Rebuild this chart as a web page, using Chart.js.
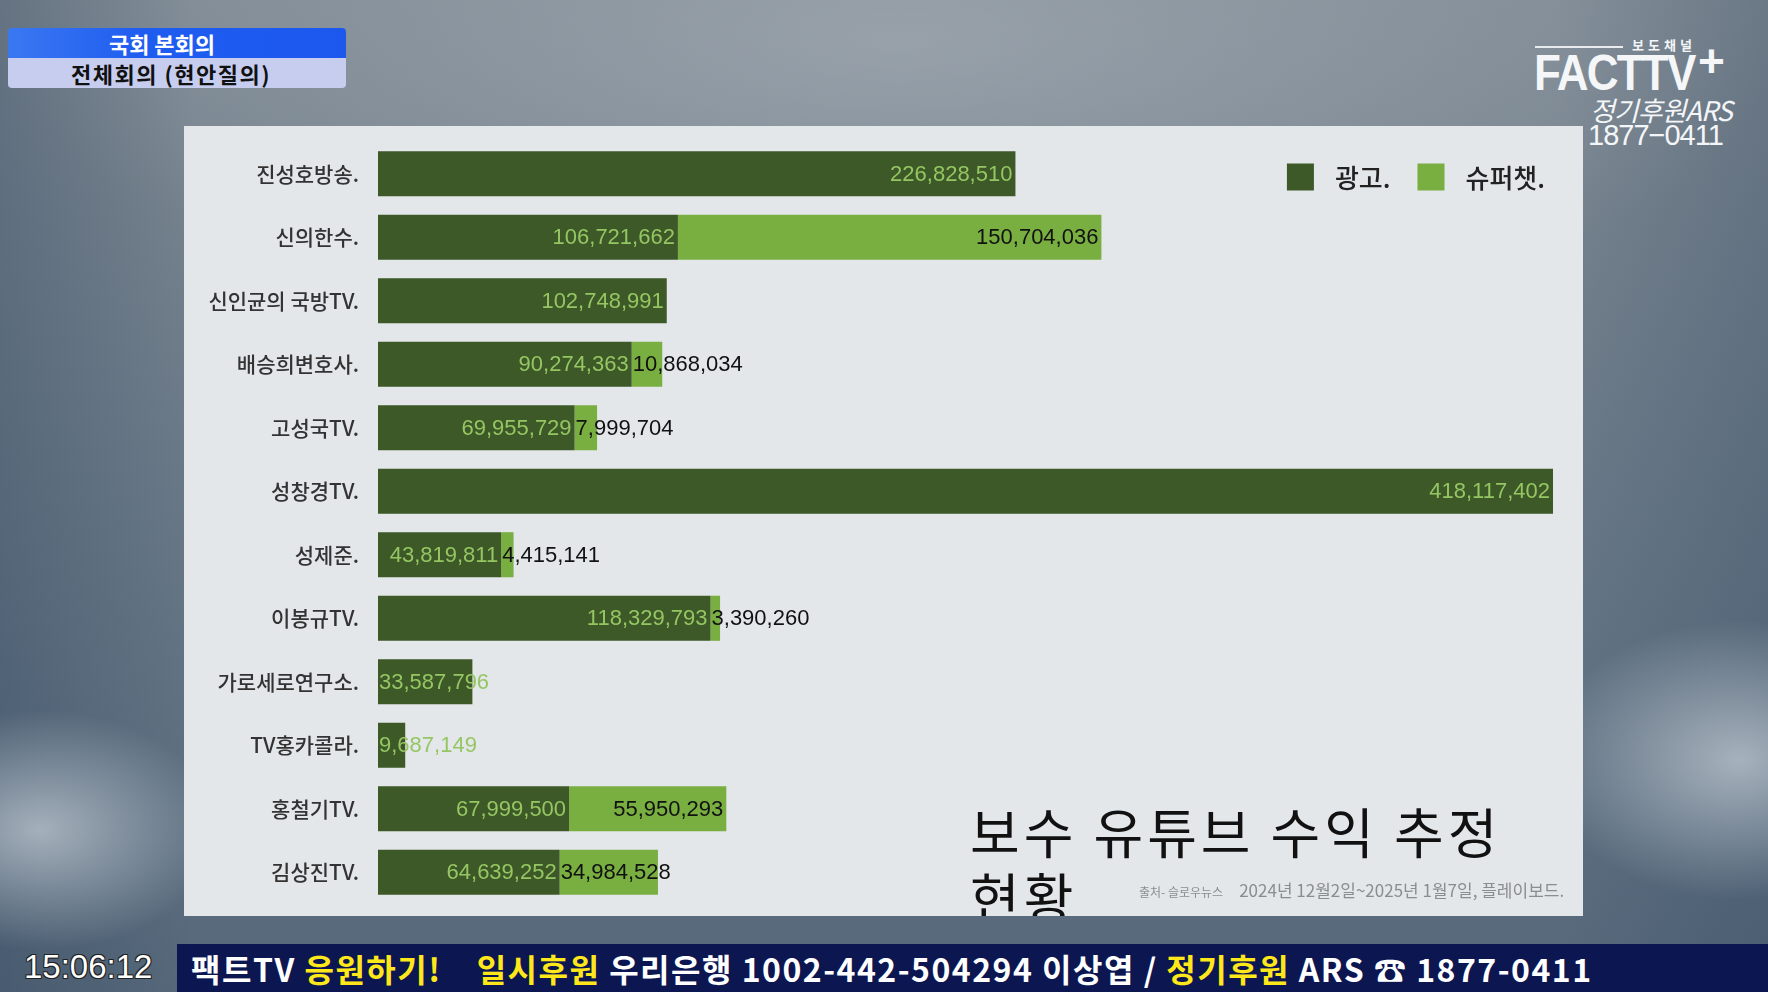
<!DOCTYPE html>
<html>
<head>
<meta charset="utf-8">
<script src="https://cdn.jsdelivr.net/npm/chart.js@4.4.1/dist/chart.umd.min.js"></script>
<style>
  html, body { margin: 0; padding: 0; }
  body {
    width: 1768px; height: 992px; position: relative; overflow: hidden;
    font-family: "Noto Sans CJK KR", "Noto Sans", sans-serif;
    background:
      radial-gradient(ellipse 180px 120px at 40px 830px, rgba(235,240,245,0.55), rgba(235,240,245,0) 100%),
      radial-gradient(ellipse 200px 140px at 1740px 760px, rgba(235,240,245,0.55), rgba(235,240,245,0) 100%),
      linear-gradient(90deg, rgba(35,58,85,0.28) 0%, rgba(35,58,85,0) 11%, rgba(35,58,85,0) 88%, rgba(35,58,85,0.22) 100%),
      radial-gradient(ellipse 900px 300px at 900px 40px, rgba(170,178,186,0.6), rgba(170,178,186,0) 100%),
      linear-gradient(180deg, #7e8993 0%, #6b7a88 45%, #5d6f80 80%, #56687a 100%);
  }
  #hdr { position: absolute; left: 8px; top: 28px; width: 338px; height: 60px; border-radius: 4px; overflow: hidden; }
  #hdr .a { height: 30px; line-height: 30px; background: linear-gradient(90deg, #3a78f2, #1f5cf0 40%, #1c58ee); color: #fff;
            font-weight: bold; font-size: 22px; text-align: center; padding-right: 30px; }
  #hdr .b { height: 30px; line-height: 30px; background: #c6cdef; color: #111; letter-spacing: 1.5px;
            font-weight: bold; font-size: 22px; text-align: center; padding-right: 12px; }
  #logo { position: absolute; left: 1520px; top: 30px; width: 240px; height: 120px; color: #f4f6f8; }
  #panel { position: absolute; left: 184px; top: 126px; width: 1399px; height: 790px; background: #e4e7ea; overflow: hidden; }
  #wrap { position: absolute; left: 0; top: 0; width: 1399px; height: 790px; }
  #title { position: absolute; left: 786px; top: 672px; font-size: 54px; line-height: 65px; letter-spacing: 4px; color: #111; white-space: nowrap; }
  #src { position: absolute; left: 955px; top: 751px; color: #8a8d90; white-space: nowrap; font-size: 17px; }
  #src small { font-size: 12px; margin-right: 16px; }
  #clock { position: absolute; left: 24px; top: 948px; font-family: "Liberation Sans", Arial, sans-serif; font-size: 33px; color: #fff;
           text-shadow: -1px -1px 0 #222, 1px -1px 0 #222, -1px 1px 0 #222, 1px 1px 0 #222; }
  #ticker { position: absolute; left: 177px; top: 944px; right: 0; bottom: 0; background: #0c1651; color: #fff;
            font-weight: bold; font-size: 32px; line-height: 48px; letter-spacing: 1.5px; padding-left: 14px; white-space: nowrap; }
  #ticker .y { color: #ffe81a; }
</style>
</head>
<body>
<div id="hdr">
  <div class="a">국회 본회의</div>
  <div class="b">전체회의 (현안질의)</div>
</div>

<div id="logo">
  <div style="position:absolute;left:15px;top:16px;width:88px;height:2px;background:#e8ecef"></div>
  <div style="position:absolute;left:112px;top:5px;font-size:13px;font-weight:bold;letter-spacing:4px">보도채널</div>
  <div style="position:absolute;left:14px;top:14px;font-family:'Liberation Sans',Arial,sans-serif;font-weight:bold;font-size:50px;transform:scaleX(0.88);transform-origin:left top;letter-spacing:-2px">FACTTV</div>
  <div style="position:absolute;left:178px;top:4px;font-family:'Liberation Sans',Arial,sans-serif;font-weight:bold;font-size:46px">+</div>
  <div style="position:absolute;left:70px;top:60px;font-size:27px;font-style:italic;letter-spacing:-1px">정기후원ARS</div>
  <div style="position:absolute;left:68px;top:89px;font-family:'Liberation Sans',Arial,sans-serif;font-size:29px;letter-spacing:-1px">1877−0411</div>
</div>

<div id="panel">
  <div id="wrap"><canvas id="grafico"></canvas></div>
  <div id="title">보수 유튜브 수익 추정<br>현황</div>
  <div id="src"><small>출처- 슬로우뉴스</small>2024년 12월2일~2025년 1월7일, 플레이보드.</div>
</div>

<div id="clock">15:06:12</div>
<div id="ticker">팩트TV <span class="y">응원하기!</span>&nbsp;&nbsp;&nbsp; <span class="y">일시후원</span> 우리은행 1002-442-504294 이상엽 / <span class="y">정기후원</span> ARS ☎ 1877-0411</div>

<script>
// Datos del grafico
var canales = ['진성호방송.', '신의한수.', '신인균의 국방TV.', '배승희변호사.', '고성국TV.', '성창경TV.',
               '성제준.', '이봉규TV.', '가로세로연구소.', 'TV홍카콜라.', '홍철기TV.', '김상진TV.'];
var publicidad = [226828510, 106721662, 102748991, 90274363, 69955729, 418117402,
                  43819811, 118329793, 33587796, 9687149, 67999500, 64639252];
var superchat = [null, 150704036, null, 10868034, 7999704, null,
                 4415141, 3390260, null, null, 55950293, 34984528];

var colorOscuro = '#3d5927';
var colorClaro = '#79af40';

// el eje termina en la barra mas larga
var totales = publicidad.map(function (v, i) { return v + (superchat[i] || 0); });
var maximoEje = Math.max.apply(null, totales);

// Etiquetas con los valores sobre cada barra
var etiquetas = {
    id: 'etiquetas',
    afterDatasetsDraw: function (chart) {
        var ctx = chart.ctx;
        ctx.save();
        ctx.font = '22px "Liberation Sans", Arial, sans-serif';
        ctx.textBaseline = 'middle';
        chart.data.datasets.forEach(function (ds, i) {
            var meta = chart.getDatasetMeta(i);
            meta.data.forEach(function (bar, j) {
                var v = ds.data[j];
                if (v === null || v === undefined) return;
                var txt = v.toLocaleString('en-US');
                var ancho = ctx.measureText(txt).width;
                var inicio = Math.min(bar.x, bar.base);
                var fin = Math.max(bar.x, bar.base);
                ctx.fillStyle = i === 0 ? '#95c663' : '#111111';
                if (ancho + 6 <= fin - inicio) {
                    ctx.textAlign = 'right';
                    ctx.fillText(txt, fin - 3, bar.y + 1);
                } else {
                    ctx.textAlign = 'left';
                    ctx.fillText(txt, inicio + 1, bar.y + 1);
                }
            });
        });
        ctx.restore();
    }
};

// Leyenda arriba a la derecha, dentro del area del grafico
var leyenda = {
    id: 'leyenda',
    afterDraw: function (chart) {
        var ctx = chart.ctx;
        var area = chart.chartArea;
        var caja = 27, hueco = 21, separacion = 27;
        ctx.save();
        ctx.font = '500 26px "Noto Sans CJK KR", sans-serif';
        ctx.textBaseline = 'middle';
        ctx.textAlign = 'left';
        var ds = chart.data.datasets;
        var total = 0;
        ds.forEach(function (d, i) {
            total += caja + hueco + ctx.measureText(d.label).width + (i > 0 ? separacion : 0);
        });
        var x = area.right - 8 - total;
        var y = area.top + 35;
        ds.forEach(function (d, i) {
            if (i > 0) x += separacion;
            ctx.fillStyle = d.backgroundColor;
            ctx.fillRect(x, y - caja / 2, caja, caja);
            x += caja + hueco;
            ctx.fillStyle = '#222';
            ctx.fillText(d.label, x, y + 1);
            x += ctx.measureText(d.label).width;
        });
        ctx.restore();
    }
};

var ctx = document.getElementById('grafico').getContext('2d');
var myChart = new Chart(ctx, {
    type: 'bar',
    data: {
        labels: canales,
        datasets: [
            { label: '광고.', data: publicidad, backgroundColor: colorOscuro },
            { label: '슈퍼챗.', data: superchat, backgroundColor: colorClaro }
        ]
    },
    options: {
        indexAxis: 'y',
        responsive: true,
        maintainAspectRatio: false,
        animation: false,
        datasets: { bar: { categoryPercentage: 1, barPercentage: 0.71 } },
        layout: { padding: { left: 0, right: 30, top: 16, bottom: 12 } },
        scales: {
            x: { stacked: true, min: 0, max: maximoEje, display: false },
            y: {
                stacked: true,
                grid: { display: false, drawTicks: false },
                border: { display: false },
                ticks: {
                    padding: 19,
                    color: '#333',
                    font: { family: '"Noto Sans CJK KR", sans-serif', size: 21, weight: '500' }
                },
                afterFit: function (scale) {
                    scale.width = 194;
                    // sin margen extra arriba y abajo por las etiquetas
                    scale.paddingTop = 0;
                    scale.paddingBottom = 0;
                }
            }
        },
        plugins: {
            tooltip: { enabled: false },
            legend: { display: false }
        }
    },
    plugins: [etiquetas, leyenda]
});
</script>
</body>
</html>
